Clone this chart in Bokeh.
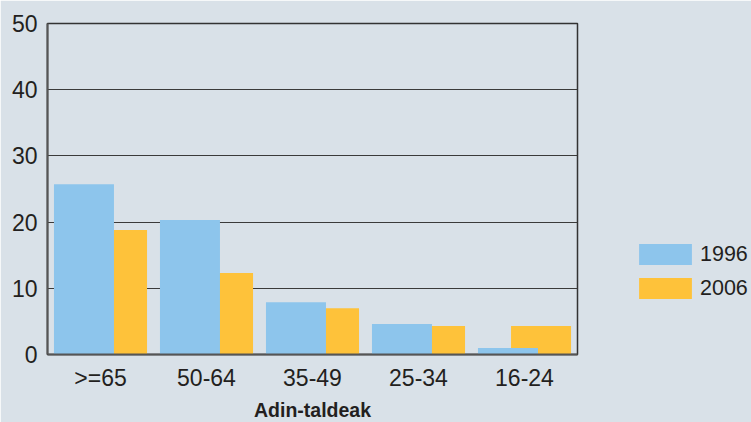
from bokeh.plotting import figure
from bokeh.models import ColumnDataSource, FactorRange, Range1d, FixedTicker, Legend, LegendItem
from bokeh.transform import dodge
from bokeh.embed import file_html
from bokeh.resources import INLINE

categories = [">=65", "50-64", "35-49", "25-34", "16-24"]
values_1996 = [25.7, 20.3, 7.9, 4.6, 1.0]
values_2006 = [18.8, 12.3, 7.0, 4.3, 4.3]
series_names = ["1996", "2006"]
y_ticks = [0, 10, 20, 30, 40, 50]

BG = "#d9e1e8"
BLUE = "#8dc5ec"
ORANGE = "#fec23a"
TEXT = "#231f20"
FONT = "Liberation Sans"

source = ColumnDataSource(dict(cat=categories, v1996=values_1996, v2006=values_2006))

p = figure(width=751, height=422, frame_width=530, frame_height=331,
           x_range=FactorRange(*categories, range_padding=0),
           y_range=Range1d(0, 50), output_backend="svg", toolbar_location=None,
           min_border_left=47, min_border_top=23, min_border_right=0, min_border_bottom=0)
p.background_fill_color = BG
p.border_fill_color = BG
p.outline_line_color = "#333333"
p.outline_line_width = 1.5

r2006 = p.vbar(x=dodge("cat", 0.156, range=p.x_range), top="v2006", width=0.566,
               source=source, fill_color=ORANGE, line_color=None)
r1996 = p.vbar(x=dodge("cat", -0.156, range=p.x_range), top="v1996", width=0.566,
               source=source, fill_color=BLUE, line_color=None)

p.xgrid.grid_line_color = None
p.ygrid.ticker = FixedTicker(ticks=y_ticks)
p.ygrid.grid_line_color = "#3a3a3a"
p.ygrid.grid_line_width = 1.2

p.yaxis.ticker = FixedTicker(ticks=y_ticks)
for ax in (p.xaxis[0], p.yaxis[0]):
    ax.major_tick_line_color = None
    ax.minor_tick_line_color = None
    ax.axis_line_color = "#555555"
    ax.axis_line_width = 2
    ax.major_label_text_font = FONT
    ax.major_label_text_font_size = "23px"
    ax.major_label_text_color = TEXT
p.yaxis.major_label_standoff = 4
p.xaxis.major_label_standoff = 4
p.xaxis.axis_label = "Adin-taldeak"
p.xaxis.axis_label_text_font = FONT
p.xaxis.axis_label_text_font_style = "bold"
p.xaxis.axis_label_text_font_size = "19.5px"
p.xaxis.axis_label_text_color = TEXT
p.xaxis.axis_label_standoff = 5

legend = Legend(items=[LegendItem(label=series_names[0], renderers=[r1996]),
                       LegendItem(label=series_names[1], renderers=[r2006])],
                location=(55, 53), orientation="vertical")
legend.background_fill_alpha = 0
legend.border_line_color = None
legend.padding = 0
legend.margin = 0
legend.glyph_width = 66
legend.glyph_height = 26
legend.label_height = 26
legend.spacing = 8
legend.label_standoff = 2
legend.label_text_font = FONT
legend.label_text_font_size = "21.5px"
legend.label_text_color = TEXT
p.add_layout(legend, "right")

open("out.html", "w").write(file_html(p, INLINE))
